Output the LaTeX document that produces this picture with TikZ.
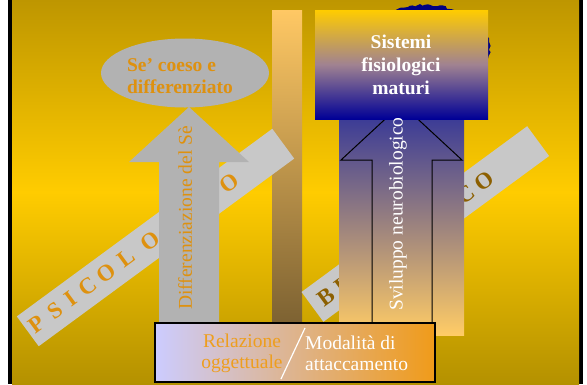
\documentclass[tikz,border=0pt]{standalone}
\usepackage{fontspec}
\setmainfont{Liberation Serif}
\usetikzlibrary{decorations.pathmorphing}

\definecolor{goldtop}{RGB}{190,150,0}
\definecolor{goldmid}{RGB}{255,204,0}
\definecolor{goldbot}{RGB}{180,145,0}
\definecolor{greyfill}{RGB}{178,178,178}
\definecolor{bandgrey}{RGB}{200,200,200}
\definecolor{psiorange}{RGB}{222,145,15}
\definecolor{relorange}{RGB}{238,158,30}
\definecolor{biobrown}{RGB}{140,95,0}
\definecolor{navyblob}{RGB}{0,0,128}
\definecolor{navybox}{RGB}{0,0,150}
\definecolor{mauve}{RGB}{160,130,145}
\definecolor{bartop}{RGB}{255,200,100}
\definecolor{barbot}{RGB}{125,98,50}
\definecolor{arrowtop}{RGB}{60,60,150}
\definecolor{arrowbot}{RGB}{255,204,102}
\definecolor{lavender}{RGB}{204,204,255}
\definecolor{boxorange}{RGB}{240,155,25}

\begin{document}
\begin{tikzpicture}[x=1pt,y=-1pt,
    band/.style={fill=bandgrey,draw=none,minimum height=37pt,inner sep=0pt,rotate=36.3},
    bandletter/.style={font=\fontsize{23}{23}\bfseries\selectfont,rotate=36.3,inner sep=0pt},
    bigtext/.style={font=\fontsize{19.5}{22}\selectfont,inner sep=0pt}]
    \useasboundingbox (0,0) rectangle (587,384);
    % frame and background
    \fill[white] (0,0) rectangle (587,384);
    \fill[black] (8,0) rectangle (583,384);
    \shade[top color=goldtop,bottom color=goldbot,middle color=goldmid] (12,0) rectangle (579,384);

    % vertical bar
    \shade[top color=bartop,bottom color=barbot] (272,10) rectangle (302,323);

    % the two slanted bands
    \node[band,minimum width=317pt] (psiband) at (155.5,237.5) {};
    \foreach \l/\t in {P/11,S/34,I/54,C/75,O/98,L/123,O/152,G/179,I/203,C/226,O/250}
      \node[bandletter,psiorange] at ({27.5+0.806*\t},{331-0.592*\t}) {\l};
    \node[band,minimum width=280pt] (bioband) at (425.3,224) {};
    \foreach \l/\t in {B/16.5,I/35,O/59,L/85,O/111,G/137,I/163,C/190,O/213}
      \node[bandletter,biobrown] at ({312.5+0.806*\t},{307-0.592*\t}) {\l};

    % left side: psychological
    \fill[greyfill] (185,73) ellipse (84 and 34.5);
    \node[bigtext,psiorange,font=\fontsize{19.5}{22}\bfseries\selectfont,align=left] (se) at (180,76) {Se’ coeso e\\differenziato};
    \fill[greyfill] (159,323) -- (159,162) -- (129,162) -- (189,107) -- (249,162) -- (219,162) -- (219,323) -- cycle;
    \node[bigtext,psiorange,rotate=90] (diff) at (185,218) {Differenziazione del Sè};

    % right side: biological
    \fill[navyblob,decorate,decoration={random steps,segment length=3pt,amplitude=1.2pt}] (424,47) ellipse (66 and 42);
    \shade[top color=arrowtop,bottom color=arrowbot] (339,119) rectangle (464,335);
    \draw[black,line width=1pt,line join=miter] (372,323) -- (372,160) -- (341,160) -- (401.5,104) -- (462,160) -- (432,160) -- (432,323);
    \shade[top color=goldmid,bottom color=navybox,middle color=mauve] (315,10) rectangle (488,119);
    \node[bigtext,white,font=\fontsize{19.5}{23}\bfseries\selectfont,align=center] (sist) at (401,65) {Sistemi\\fisiologici\\maturi};
    \node[bigtext,white,rotate=90] (svil) at (398,214) {Sviluppo\ neurobiologico};

    % bottom box
    \shade[left color=lavender,right color=boxorange,draw=black,line width=1.5pt] (155,323) rectangle (435,382);
    \node[bigtext,relorange,align=center,font=\fontsize{19.5}{21}\selectfont] (rel) at (242,353) {Relazione\\oggettuale};
    \node[bigtext,white,align=left,anchor=west,font=\fontsize{19.5}{21}\selectfont] (mod) at (305,353) {Modalità di\\attaccamento};
    \draw[white,line width=1.2pt] (281,379) -- (305,328);
\end{tikzpicture}
\end{document}
